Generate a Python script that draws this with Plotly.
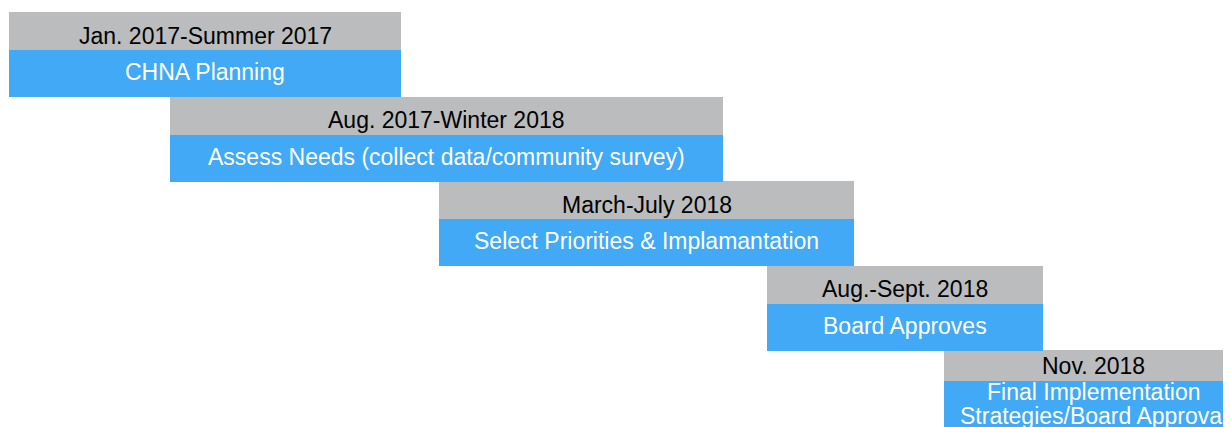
import plotly.graph_objects as go

# ---- data ----
phases = [
    "CHNA Planning",
    "Assess Needs (collect data/community survey)",
    "Select Priorities & Implamantation",
    "Board Approves",
    "Final Implementation<br>Strategies/Board Approval",
]
periods = [
    "Jan. 2017-Summer 2017",
    "Aug. 2017-Winter 2018",
    "March-July 2018",
    "Aug.-Sept. 2018",
    "Nov. 2018",
]
# timeline units (abstract schedule scale)
start_units = [9, 170, 439, 767, 944]
end_units = [401, 723, 854, 1043, 1243]

# ---- styling ----
GRAY = "#BBBCBE"
BLUE = "#41A9F5"
FONT = "Liberation Sans, Arial, Helvetica, sans-serif"
FS = 23
W, H = 1231, 427
PAGE_OFF = 8  # default page body margin
row_pitch = 84.5
first_top = 12

n = len(phases)
tops = [first_top + row_pitch * i for i in range(n)]
gray_h = [38 if i < n - 1 else 31 for i in range(n)]
blue_h = [47 if i < n - 1 else 60 for i in range(n)]
blue_tops = [t + g for t, g in zip(tops, gray_h)]
widths = [e - s for s, e in zip(start_units, end_units)]

fig = go.Figure()
fig.add_trace(go.Bar(
    orientation="h",
    base=start_units,
    x=widths,
    y=[t + g / 2 for t, g in zip(tops, gray_h)],
    width=gray_h,
    marker=dict(color=GRAY, line=dict(width=0)),
    hoverinfo="skip",
))
fig.add_trace(go.Bar(
    orientation="h",
    base=start_units,
    x=widths,
    y=[t + b / 2 for t, b in zip(blue_tops, blue_h)],
    width=blue_h,
    marker=dict(color=BLUE, line=dict(width=0)),
    hoverinfo="skip",
))

annotations = []
for i in range(n):
    cx = (start_units[i] + end_units[i]) / 2
    gy = tops[i] + (23.5 if i < n - 1 else 16)
    annotations.append(dict(
        x=cx, y=gy, xref="x", yref="y", text=periods[i], showarrow=False,
        font=dict(family=FONT, size=FS, color="black"),
        xanchor="center", yanchor="middle",
    ))
    lines = phases[i].split("<br>")
    if len(lines) == 1:
        ys = [blue_tops[i] + 22]
    else:
        ys = [blue_tops[i] + 11 + 23.5 * k for k in range(len(lines))]
    for ln, y in zip(lines, ys):
        annotations.append(dict(
            x=cx, y=y, xref="x", yref="y", text=ln, showarrow=False,
            font=dict(family=FONT, size=FS, color="white"),
            xanchor="center", yanchor="middle",
        ))

fig.update_layout(
    width=W - PAGE_OFF, height=H - PAGE_OFF,
    margin=dict(l=0, r=0, t=0, b=0),
    paper_bgcolor="white", plot_bgcolor="white",
    barmode="overlay", bargap=0,
    showlegend=False,
    xaxis=dict(range=[PAGE_OFF, W], visible=False, fixedrange=True),
    yaxis=dict(range=[H, PAGE_OFF], visible=False, fixedrange=True),
    annotations=annotations,
)

fig.write_html("out.html")
